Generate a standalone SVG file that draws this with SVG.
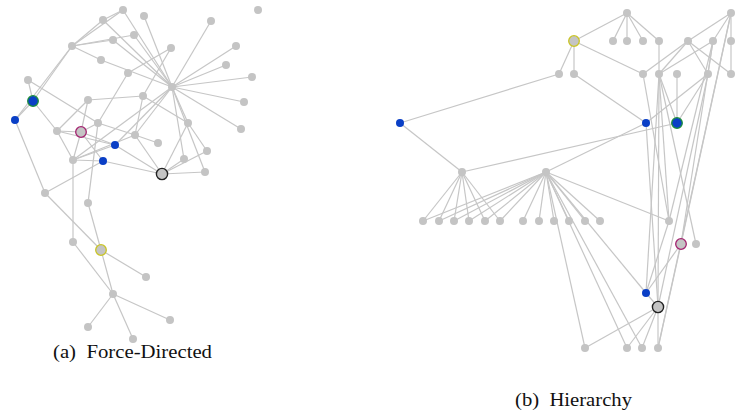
<svg xmlns="http://www.w3.org/2000/svg" width="740" height="414" viewBox="0 0 740 414">
<style>
.e line{stroke:#c6c6c6;stroke-width:1.2;fill:none}
.n{fill:#c4c4c4}
.b{fill:#0a3fc6}
.g{fill:#0a3fc6;stroke:#1c8f3c;stroke-width:1.3}
.p{fill:#c4c4c4;stroke:#a3226f;stroke-width:1.3}
.y{fill:#c4c4c4;stroke:#c9c425;stroke-width:1.3}
.k{fill:#c4c4c4;stroke:#222;stroke-width:1.4}
text{font-family:"Liberation Serif","Times New Roman",serif;fill:#111}
</style>
<rect width="740" height="414" fill="#fff"/>

<!-- (a) force-directed layout: edges -->
<g id="edges-a" class="e">
<line x1="72" y1="46" x2="103" y2="20"/><line x1="72" y1="46" x2="123" y2="10"/>
<line x1="72" y1="46" x2="113" y2="40"/><line x1="72" y1="46" x2="134" y2="35"/>
<line x1="72" y1="46" x2="101" y2="60"/><line x1="72" y1="46" x2="33" y2="101"/>
<line x1="72" y1="46" x2="15" y2="120"/><line x1="103" y1="20" x2="123" y2="10"/>
<line x1="123" y1="10" x2="172" y2="87"/><line x1="144" y1="16" x2="172" y2="87"/>
<line x1="103" y1="20" x2="172" y2="87"/><line x1="134" y1="35" x2="172" y2="87"/>
<line x1="113" y1="40" x2="172" y2="87"/><line x1="101" y1="60" x2="172" y2="87"/>
<line x1="171" y1="48" x2="128" y2="73"/><line x1="171" y1="48" x2="143" y2="96"/>
<line x1="128" y1="73" x2="98" y2="123"/>
<line x1="172" y1="87" x2="211" y2="21"/><line x1="172" y1="87" x2="236" y2="46"/>
<line x1="172" y1="87" x2="226" y2="65"/><line x1="172" y1="87" x2="252" y2="77"/>
<line x1="172" y1="87" x2="244" y2="102"/><line x1="172" y1="87" x2="241" y2="129"/>
<line x1="172" y1="87" x2="188" y2="123"/><line x1="172" y1="87" x2="205" y2="172"/>
<line x1="172" y1="87" x2="184" y2="159"/><line x1="172" y1="87" x2="115" y2="145"/>
<line x1="172" y1="87" x2="135" y2="135"/><line x1="172" y1="87" x2="73" y2="160"/>
<line x1="143" y1="96" x2="88" y2="100"/><line x1="143" y1="96" x2="188" y2="123"/>
<line x1="143" y1="96" x2="135" y2="135"/>
<line x1="28" y1="80" x2="33" y2="101"/><line x1="28" y1="80" x2="98" y2="123"/>
<line x1="33" y1="101" x2="57" y2="131"/><line x1="33" y1="101" x2="15" y2="120"/>
<line x1="88" y1="100" x2="57" y2="131"/><line x1="88" y1="100" x2="81" y2="132"/>
<line x1="98" y1="123" x2="135" y2="135"/><line x1="98" y1="123" x2="81" y2="132"/>
<line x1="98" y1="123" x2="88" y2="203"/>
<line x1="57" y1="131" x2="81" y2="132"/><line x1="57" y1="131" x2="73" y2="160"/>
<line x1="57" y1="131" x2="115" y2="145"/>
<line x1="81" y1="132" x2="73" y2="160"/><line x1="81" y1="132" x2="103" y2="161"/>
<line x1="81" y1="132" x2="115" y2="145"/>
<line x1="73" y1="160" x2="115" y2="145"/><line x1="73" y1="160" x2="103" y2="161"/>
<line x1="73" y1="160" x2="73" y2="242"/><line x1="73" y1="160" x2="135" y2="135"/>
<line x1="115" y1="145" x2="162" y2="174"/><line x1="103" y1="161" x2="162" y2="174"/>
<line x1="135" y1="135" x2="162" y2="174"/><line x1="135" y1="135" x2="158" y2="143"/>
<line x1="188" y1="123" x2="162" y2="174"/><line x1="188" y1="123" x2="207" y2="151"/>
<line x1="184" y1="159" x2="162" y2="174"/><line x1="205" y1="172" x2="162" y2="174"/>
<line x1="207" y1="151" x2="162" y2="174"/>
<line x1="45" y1="193" x2="15" y2="120"/><line x1="45" y1="193" x2="103" y2="161"/>
<line x1="45" y1="193" x2="101" y2="250"/><line x1="88" y1="203" x2="101" y2="250"/>
<line x1="73" y1="242" x2="113" y2="294"/>
<line x1="101" y1="250" x2="146" y2="277"/><line x1="101" y1="250" x2="113" y2="294"/>
<line x1="113" y1="294" x2="170" y2="320"/><line x1="113" y1="294" x2="88" y2="327"/>
<line x1="113" y1="294" x2="133" y2="339"/>
</g>

<!-- (a) nodes -->
<g id="a1"><circle class="n" cx="123" cy="10" r="4"/></g>
<g id="a2"><circle class="n" cx="144" cy="16" r="4"/></g>
<g id="a3"><circle class="n" cx="103" cy="20" r="4"/></g>
<g id="a4"><circle class="n" cx="258" cy="10" r="4"/></g>
<g id="a5"><circle class="n" cx="211" cy="21" r="4"/></g>
<g id="a6"><circle class="n" cx="134" cy="35" r="4"/></g>
<g id="a7"><circle class="n" cx="113" cy="40" r="4"/></g>
<g id="a8"><circle class="n" cx="72" cy="46" r="4"/></g>
<g id="a9"><circle class="n" cx="171" cy="48" r="4"/></g>
<g id="a10"><circle class="n" cx="236" cy="46" r="4"/></g>
<g id="a11"><circle class="n" cx="101" cy="60" r="4"/></g>
<g id="a12"><circle class="n" cx="226" cy="65" r="4"/></g>
<g id="a13"><circle class="n" cx="252" cy="77" r="4"/></g>
<g id="a14"><circle class="n" cx="128" cy="73" r="4"/></g>
<g id="a15"><circle class="n" cx="28" cy="80" r="4"/></g>
<g id="a-hub"><circle class="n" cx="172" cy="87" r="4"/></g>
<g id="a16"><circle class="n" cx="244" cy="102" r="4"/></g>
<g id="a-green"><circle class="g" cx="33" cy="101" r="5.3"/></g>
<g id="a17"><circle class="n" cx="88" cy="100" r="4"/></g>
<g id="a18"><circle class="n" cx="143" cy="96" r="4"/></g>
<g id="a-blue1"><circle class="b" cx="15" cy="120" r="4"/></g>
<g id="a19"><circle class="n" cx="98" cy="123" r="4"/></g>
<g id="a20"><circle class="n" cx="188" cy="123" r="4"/></g>
<g id="a21"><circle class="n" cx="241" cy="129" r="4"/></g>
<g id="a22"><circle class="n" cx="57" cy="131" r="4"/></g>
<g id="a-purple"><circle class="p" cx="81" cy="132" r="5.3"/></g>
<g id="a23"><circle class="n" cx="135" cy="135" r="4"/></g>
<g id="a24"><circle class="n" cx="158" cy="143" r="4"/></g>
<g id="a-blue2"><circle class="b" cx="115" cy="145" r="4"/></g>
<g id="a25"><circle class="n" cx="207" cy="151" r="4"/></g>
<g id="a26"><circle class="n" cx="184" cy="159" r="4"/></g>
<g id="a27"><circle class="n" cx="73" cy="160" r="4"/></g>
<g id="a-blue3"><circle class="b" cx="103" cy="161" r="4"/></g>
<g id="a28"><circle class="n" cx="205" cy="172" r="4"/></g>
<g id="a-black"><circle class="k" cx="162" cy="174" r="5.6"/></g>
<g id="a29"><circle class="n" cx="45" cy="193" r="4"/></g>
<g id="a30"><circle class="n" cx="88" cy="203" r="4"/></g>
<g id="a31"><circle class="n" cx="73" cy="242" r="4"/></g>
<g id="a-yellow"><circle class="y" cx="101" cy="250" r="5.3"/></g>
<g id="a32"><circle class="n" cx="146" cy="277" r="4"/></g>
<g id="a33"><circle class="n" cx="113" cy="294" r="4"/></g>
<g id="a34"><circle class="n" cx="170" cy="320" r="4"/></g>
<g id="a35"><circle class="n" cx="88" cy="327" r="4"/></g>
<g id="a36"><circle class="n" cx="133" cy="339" r="4"/></g>

<!-- (b) hierarchy layout: edges -->
<g id="edges-b" class="e">
<line x1="627" y1="13" x2="574" y2="41"/><line x1="627" y1="13" x2="613" y2="41"/>
<line x1="627" y1="13" x2="627" y2="41"/><line x1="627" y1="13" x2="643" y2="41"/>
<line x1="627" y1="13" x2="659" y2="41"/>
<line x1="574" y1="41" x2="559" y2="74"/><line x1="574" y1="41" x2="574" y2="74"/>
<line x1="574" y1="41" x2="643" y2="74"/><line x1="659" y1="41" x2="659" y2="74"/>
<line x1="559" y1="74" x2="400" y2="123"/><line x1="574" y1="74" x2="646" y2="123"/>
<line x1="400" y1="123" x2="462" y2="172"/><line x1="462" y1="172" x2="677" y2="123"/>
<line x1="646" y1="123" x2="546" y2="172"/><line x1="646" y1="123" x2="708" y2="74"/>
<line x1="677" y1="74" x2="677" y2="123"/><line x1="708" y1="74" x2="677" y2="123"/>
<line x1="659" y1="74" x2="677" y2="123"/>
<line x1="731" y1="13" x2="688" y2="41"/><line x1="731" y1="13" x2="713" y2="41"/>
<line x1="731" y1="13" x2="731" y2="41"/><line x1="731" y1="41" x2="731" y2="74"/>
<line x1="688" y1="41" x2="643" y2="74"/><line x1="688" y1="41" x2="659" y2="74"/>
<line x1="688" y1="41" x2="708" y2="74"/><line x1="688" y1="41" x2="731" y2="74"/>
<line x1="713" y1="41" x2="659" y2="74"/><line x1="713" y1="41" x2="708" y2="74"/>
<line x1="462" y1="172" x2="423" y2="221"/><line x1="462" y1="172" x2="439" y2="221"/>
<line x1="462" y1="172" x2="454" y2="221"/><line x1="462" y1="172" x2="469" y2="221"/>
<line x1="462" y1="172" x2="485" y2="221"/><line x1="462" y1="172" x2="500" y2="221"/>
<line x1="546" y1="172" x2="423" y2="221"/><line x1="546" y1="172" x2="439" y2="221"/>
<line x1="546" y1="172" x2="454" y2="221"/><line x1="546" y1="172" x2="469" y2="221"/>
<line x1="546" y1="172" x2="485" y2="221"/><line x1="546" y1="172" x2="500" y2="221"/>
<line x1="546" y1="172" x2="523" y2="221"/><line x1="546" y1="172" x2="539" y2="221"/>
<line x1="546" y1="172" x2="554" y2="221"/><line x1="546" y1="172" x2="569" y2="221"/>
<line x1="546" y1="172" x2="585" y2="221"/><line x1="546" y1="172" x2="600" y2="221"/>
<line x1="546" y1="172" x2="669" y2="221"/><line x1="546" y1="172" x2="646" y2="293"/>
<line x1="546" y1="172" x2="585" y2="348"/><line x1="546" y1="172" x2="627" y2="348"/>
<line x1="546" y1="172" x2="642" y2="348"/>
<line x1="658" y1="307" x2="585" y2="348"/><line x1="658" y1="307" x2="627" y2="348"/>
<line x1="658" y1="307" x2="642" y2="348"/><line x1="658" y1="307" x2="658" y2="348"/>
<line x1="658" y1="307" x2="646" y2="293"/><line x1="646" y1="293" x2="681" y2="244"/>
<line x1="646" y1="123" x2="658" y2="307"/><line x1="659" y1="74" x2="646" y2="293"/>
<line x1="659" y1="74" x2="658" y2="307"/><line x1="659" y1="74" x2="669" y2="221"/>
<line x1="643" y1="74" x2="669" y2="221"/><line x1="713" y1="41" x2="669" y2="221"/>
<line x1="708" y1="74" x2="658" y2="307"/><line x1="731" y1="13" x2="658" y2="348"/>
<line x1="731" y1="13" x2="681" y2="244"/><line x1="713" y1="41" x2="681" y2="244"/>
<line x1="659" y1="74" x2="696" y2="244"/><line x1="669" y1="221" x2="646" y2="293"/>
<line x1="681" y1="244" x2="658" y2="348"/>
</g>

<!-- (b) nodes -->
<g id="b1"><circle class="n" cx="627" cy="13" r="4"/></g>
<g id="b2"><circle class="n" cx="731" cy="13" r="4"/></g>
<g id="b-yellow"><circle class="y" cx="574" cy="41" r="5.3"/></g>
<g id="b3"><circle class="n" cx="613" cy="41" r="4"/></g>
<g id="b4"><circle class="n" cx="627" cy="41" r="4"/></g>
<g id="b5"><circle class="n" cx="643" cy="41" r="4"/></g>
<g id="b6"><circle class="n" cx="659" cy="41" r="4"/></g>
<g id="b7"><circle class="n" cx="688" cy="41" r="4"/></g>
<g id="b8"><circle class="n" cx="713" cy="41" r="4"/></g>
<g id="b9"><circle class="n" cx="731" cy="41" r="4"/></g>
<g id="b10"><circle class="n" cx="559" cy="74" r="4"/></g>
<g id="b11"><circle class="n" cx="574" cy="74" r="4"/></g>
<g id="b12"><circle class="n" cx="643" cy="74" r="4"/></g>
<g id="b13"><circle class="n" cx="659" cy="74" r="4"/></g>
<g id="b14"><circle class="n" cx="677" cy="74" r="4"/></g>
<g id="b15"><circle class="n" cx="708" cy="74" r="4"/></g>
<g id="b16"><circle class="n" cx="731" cy="74" r="4"/></g>
<g id="b-blue1"><circle class="b" cx="400" cy="123" r="4"/></g>
<g id="b-blue2"><circle class="b" cx="646" cy="123" r="4"/></g>
<g id="b-green"><circle class="g" cx="677" cy="123" r="5.3"/></g>
<g id="b17"><circle class="n" cx="462" cy="172" r="4"/></g>
<g id="b18"><circle class="n" cx="546" cy="172" r="4"/></g>
<g id="b-l1"><circle class="n" cx="423" cy="221" r="4"/></g>
<g id="b-l2"><circle class="n" cx="439" cy="221" r="4"/></g>
<g id="b-l3"><circle class="n" cx="454" cy="221" r="4"/></g>
<g id="b-l4"><circle class="n" cx="469" cy="221" r="4"/></g>
<g id="b-l5"><circle class="n" cx="485" cy="221" r="4"/></g>
<g id="b-l6"><circle class="n" cx="500" cy="221" r="4"/></g>
<g id="b-m1"><circle class="n" cx="523" cy="221" r="4"/></g>
<g id="b-m2"><circle class="n" cx="539" cy="221" r="4"/></g>
<g id="b-m3"><circle class="n" cx="554" cy="221" r="4"/></g>
<g id="b-m4"><circle class="n" cx="569" cy="221" r="4"/></g>
<g id="b-m5"><circle class="n" cx="585" cy="221" r="4"/></g>
<g id="b-m6"><circle class="n" cx="600" cy="221" r="4"/></g>
<g id="b19"><circle class="n" cx="669" cy="221" r="4"/></g>
<g id="b-purple"><circle class="p" cx="681" cy="244" r="5.3"/></g>
<g id="b20"><circle class="n" cx="696" cy="244" r="4"/></g>
<g id="b-blue3"><circle class="b" cx="646" cy="293" r="4"/></g>
<g id="b-black"><circle class="k" cx="658" cy="307" r="5.6"/></g>
<g id="b-s1"><circle class="n" cx="585" cy="348" r="4"/></g>
<g id="b-s2"><circle class="n" cx="627" cy="348" r="4"/></g>
<g id="b-s3"><circle class="n" cx="642" cy="348" r="4"/></g>
<g id="b-s4"><circle class="n" cx="658" cy="348" r="4"/></g>

<!-- captions -->
<text x="53" y="358" font-size="18" textLength="159" lengthAdjust="spacingAndGlyphs" xml:space="preserve">(a)  Force-Directed</text>
<text x="515" y="406" font-size="19.5" textLength="117" lengthAdjust="spacingAndGlyphs" xml:space="preserve">(b)  Hierarchy</text>
</svg>
